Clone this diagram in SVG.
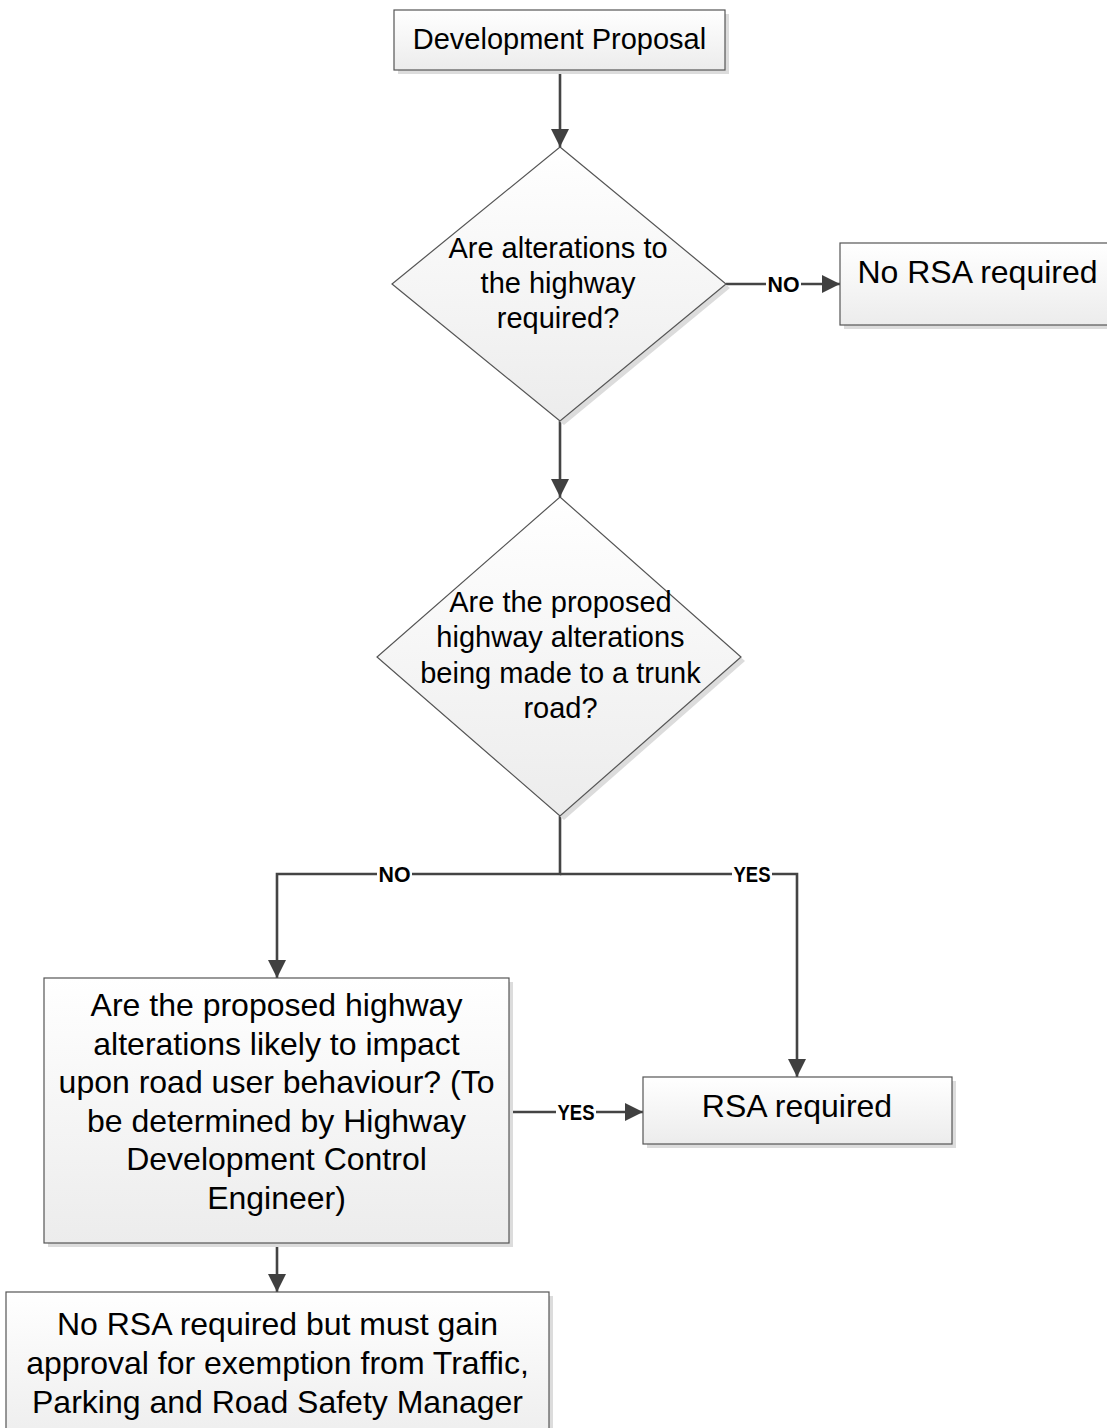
<svg xmlns="http://www.w3.org/2000/svg" width="1107" height="1428" viewBox="0 0 1107 1428">
<style>
.shape{fill:url(#g);stroke:#555;stroke-width:1.2}
.shadow{fill:#dcdcdc;stroke:none}
.t{font-family:"Liberation Sans",Arial,sans-serif;fill:#000;text-anchor:middle}
.conn{fill:none;stroke:#444;stroke-width:2.6}
.lbl{font-family:"Liberation Sans",Arial,sans-serif;font-weight:bold;font-size:22px;fill:#000;text-anchor:middle}
.lblbg{fill:#fff}
</style>
<defs>
<linearGradient id="g" x1="0" y1="0" x2="0" y2="1">
<stop offset="0" stop-color="#ffffff"/>
<stop offset="1" stop-color="#ececec"/>
</linearGradient>
<marker id="arr" markerUnits="userSpaceOnUse" markerWidth="18" markerHeight="18" viewBox="0 0 18 18" refX="18" refY="9" orient="auto">
<path d="M0,0 L18,9 L0,18 Z" fill="#404040"/>
</marker>
</defs>

<g id="connectors">
<line class="conn" x1="560" y1="70" x2="560" y2="147" marker-end="url(#arr)"/>
<line class="conn" x1="726" y1="284" x2="840" y2="284" marker-end="url(#arr)"/>
<line class="conn" x1="560" y1="421" x2="560" y2="497" marker-end="url(#arr)"/>
<polyline class="conn" points="560,816 560,874 277,874 277,978" marker-end="url(#arr)"/>
<polyline class="conn" points="560,874 797,874 797,1077" marker-end="url(#arr)"/>
<line class="conn" x1="509" y1="1112" x2="643" y2="1112" marker-end="url(#arr)"/>
<line class="conn" x1="277" y1="1243" x2="277" y2="1292" marker-end="url(#arr)"/>
<rect class="lblbg" x="766" y="273" width="35" height="22"/>
<text class="lbl" x="783.5" y="292" textLength="32" lengthAdjust="spacingAndGlyphs">NO</text>
<rect class="lblbg" x="377" y="863" width="35" height="22"/>
<text class="lbl" x="394.5" y="882" textLength="32" lengthAdjust="spacingAndGlyphs">NO</text>
<rect class="lblbg" x="732" y="863" width="40" height="22"/>
<text class="lbl" x="752" y="882" textLength="37" lengthAdjust="spacingAndGlyphs">YES</text>
<rect class="lblbg" x="556" y="1101" width="40" height="22"/>
<text class="lbl" x="576" y="1120" textLength="37" lengthAdjust="spacingAndGlyphs">YES</text>
</g>

<g id="n-development-proposal">
<rect class="shadow" x="398" y="14" width="331" height="60"/>
<rect class="shape" x="394" y="10" width="331" height="60"/>
<text class="t" x="559.5" y="49" font-size="29">Development Proposal</text>
</g>

<g id="n-alterations-required">
<polygon class="shadow" points="564,151 730,288 564,425 396,288"/>
<polygon class="shape" points="560,147 726,284 560,421 392,284"/>
<text class="t" font-size="29"><tspan x="558" y="258">Are alterations to</tspan><tspan x="558" y="293">the highway</tspan><tspan x="558" y="328">required?</tspan></text>
</g>

<g id="n-no-rsa-1">
<rect class="shadow" x="844" y="247" width="275" height="82"/>
<rect class="shape" x="840" y="243" width="275" height="82"/>
<text class="t" x="977.5" y="283" font-size="32">No RSA required</text>
</g>

<g id="n-trunk-road">
<polygon class="shadow" points="564,501 745,661 564,820 381,661"/>
<polygon class="shape" points="560,497 741,657 560,816 377,657"/>
<text class="t" font-size="29"><tspan x="560.5" y="612">Are the proposed</tspan><tspan x="560.5" y="647">highway alterations</tspan><tspan x="560.5" y="683">being made to a trunk</tspan><tspan x="560.5" y="718">road?</tspan></text>
</g>

<g id="n-impact-behaviour">
<rect class="shadow" x="48" y="982" width="465" height="265"/>
<rect class="shape" x="44" y="978" width="465" height="265"/>
<text class="t" font-size="32"><tspan x="276.5" y="1016">Are the proposed highway</tspan><tspan x="276.5" y="1054.5">alterations likely to impact</tspan><tspan x="276.5" y="1093">upon road user behaviour? (To</tspan><tspan x="276.5" y="1131.5">be determined by Highway</tspan><tspan x="276.5" y="1170">Development Control</tspan><tspan x="276.5" y="1208.5">Engineer)</tspan></text>
</g>

<g id="n-rsa-required">
<rect class="shadow" x="647" y="1081" width="309" height="67"/>
<rect class="shape" x="643" y="1077" width="309" height="67"/>
<text class="t" x="797" y="1117" font-size="32">RSA required</text>
</g>

<g id="n-no-rsa-exemption">
<rect class="shadow" x="10" y="1296" width="543" height="160"/>
<rect class="shape" x="6" y="1292" width="543" height="160"/>
<text class="t" font-size="32"><tspan x="277.5" y="1335">No RSA required but must gain</tspan><tspan x="277.5" y="1374">approval for exemption from Traffic,</tspan><tspan x="277.5" y="1413">Parking and Road Safety Manager</tspan></text>
</g>
</svg>
